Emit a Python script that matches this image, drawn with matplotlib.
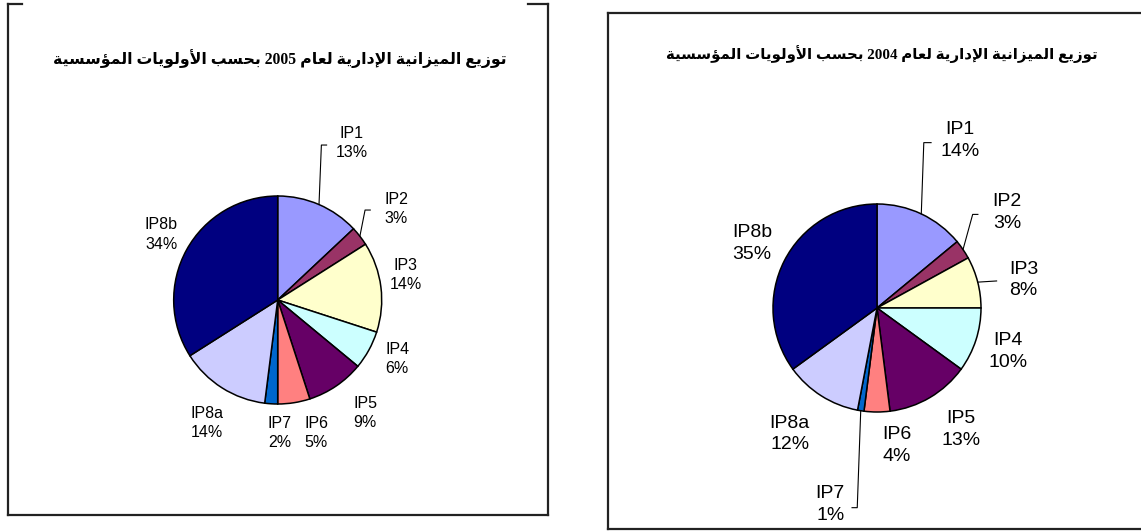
import math
import matplotlib.pyplot as plt
from matplotlib.lines import Line2D

# data
labels = ['IP1', 'IP2', 'IP3', 'IP4', 'IP5', 'IP6', 'IP7', 'IP8a', 'IP8b']
share_2005 = [13, 3, 14, 6, 9, 5, 2, 14, 34]
share_2004 = [14, 3, 8, 10, 13, 4, 1, 12, 35]
title_2005 = 'توزيع الميزانية الإدارية لعام 2005 بحسب الأولويات المؤسسية'
title_2004 = 'توزيع الميزانية الإدارية لعام 2004 بحسب الأولويات المؤسسية'

colors = ['#9999FF', '#993366', '#FFFFCC', '#CCFFFF', '#660066',
          '#FF8080', '#0066CC', '#CCCCFF', '#000080']

# label positions (in pie radius units, relative to the centre)
pos_2005 = [(0.71, 1.51), (1.14, 0.875), (1.23, 0.24), (1.15, -0.57), (0.84, -1.09),
            (0.37, -1.28), (0.02, -1.28), (-0.68, -1.18), (-1.12, 0.63)]
pos_2004 = [(0.80, 1.61), (1.25, 0.92), (1.41, 0.27), (1.26, -0.42), (0.81, -1.17),
            (0.19, -1.32), (-0.45, -1.89), (-0.84, -1.21), (-1.20, 0.62)]
# leader lines: label index -> (elbow, end)
lead_2005 = {0: [(0.42, 1.49), (0.47, 1.49)], 1: [(0.84, 0.865), (0.89, 0.865)]}
lead_2004 = {0: [(0.45, 1.59), (0.52, 1.59)], 1: [(0.92, 0.90), (0.97, 0.90)],
             2: [(1.15, 0.26), (1.15, 0.26)], 6: [(-0.19, -1.92), (-0.24, -1.92)]}

# minimal arabic shaping (matplotlib does not shape or reorder arabic)
FORMS = {  # isolated, final, initial, medial
    'ا': (0xFE8D, 0xFE8E, None, None), 'أ': (0xFE83, 0xFE84, None, None),
    'إ': (0xFE87, 0xFE88, None, None), 'د': (0xFEA9, 0xFEAA, None, None),
    'ر': (0xFEAD, 0xFEAE, None, None), 'ز': (0xFEAF, 0xFEB0, None, None),
    'و': (0xFEED, 0xFEEE, None, None), 'ؤ': (0xFE85, 0xFE86, None, None),
    'ة': (0xFE93, 0xFE94, None, None),
    'ب': (0xFE8F, 0xFE90, 0xFE91, 0xFE92), 'ت': (0xFE95, 0xFE96, 0xFE97, 0xFE98),
    'ح': (0xFEA1, 0xFEA2, 0xFEA3, 0xFEA4), 'س': (0xFEB1, 0xFEB2, 0xFEB3, 0xFEB4),
    'ع': (0xFEC9, 0xFECA, 0xFECB, 0xFECC), 'ل': (0xFEDD, 0xFEDE, 0xFEDF, 0xFEE0),
    'م': (0xFEE1, 0xFEE2, 0xFEE3, 0xFEE4), 'ن': (0xFEE5, 0xFEE6, 0xFEE7, 0xFEE8),
    'ي': (0xFEF1, 0xFEF2, 0xFEF3, 0xFEF4),
}
LAMALEF = {'ا': (0xFEFB, 0xFEFC), 'أ': (0xFEF7, 0xFEF8), 'إ': (0xFEF9, 0xFEFA)}


def shape_word(w):
    out = []
    prev_joins = False
    i = 0
    while i < len(w):
        c = w[i]
        if c == 'ل' and i + 1 < len(w) and w[i + 1] in LAMALEF:
            iso, fin = LAMALEF[w[i + 1]]
            out.append(chr(fin if prev_joins else iso))
            prev_joins = False
            i += 2
            continue
        if c not in FORMS:
            out.append(c)
            prev_joins = False
            i += 1
            continue
        iso, fin, ini, med = FORMS[c]
        nxt = w[i + 1] if i + 1 < len(w) else None
        next_ok = ini is not None and nxt in FORMS
        if prev_joins and next_ok:
            f = med
        elif prev_joins:
            f = fin
        elif next_ok:
            f = ini
        else:
            f = iso
        out.append(chr(f))
        prev_joins = next_ok
        i += 1
    return ''.join(out)


def rtl(text):
    words = [w if w.isdigit() else shape_word(w)[::-1] for w in text.split(' ')]
    return ' '.join(reversed(words))


W, H = 1141, 531
fig = plt.figure(figsize=(W / 100, H / 100), dpi=100)


def panel(box, centre, r, values, title, title_xy, title_size, pos, leads, fsize,
          top_gap=None, right_edge=True):
    x0, y0, x1, y1 = box  # pixels, y from top
    cx, cy = centre
    ax = fig.add_axes([x0 / W, (H - y1) / H, (x1 - x0) / W, (y1 - y0) / H])
    ax.pie(values, colors=colors, startangle=90, counterclock=False, radius=1,
           wedgeprops={'edgecolor': 'black', 'linewidth': 1.1})
    ax.set_xlim((x0 - cx) / r, (x1 - cx) / r)
    ax.set_ylim((cy - y1) / r, (cy - y0) / r)
    ax.set_aspect('auto')
    ax.set_xticks([])
    ax.set_yticks([])
    for s in ax.spines.values():
        s.set_visible(False)

    total = sum(values)
    cum = 0
    for i, (lab, v) in enumerate(zip(labels, values)):
        mid = 90 - (cum + v / 2) / total * 360
        cum += v
        px, py = math.cos(math.radians(mid)), math.sin(math.radians(mid))
        lx, ly = pos[i]
        ax.text(lx, ly, f'{lab}\n{round(v / total * 100)}%', ha='center', va='center',
                multialignment='center', fontsize=fsize, family='Liberation Sans',
                linespacing=1.35, color='black')
        if i in leads:
            (ex, ey), (fx, fy) = leads[i]
            ax.plot([px, ex, fx], [py, ey, fy], color='black', lw=0.8)

    ax.text(title_xy[0], title_xy[1], rtl(title), transform=ax.transAxes,
            ha='center', va='center', fontsize=title_size, fontweight='bold',
            family=['Liberation Serif', 'DejaVu Sans'])

    # border
    lc = '#222222'
    tr = ax.transAxes
    ax.add_line(Line2D([0, 0], [0, 1], transform=tr, color=lc, lw=1.6, clip_on=False))
    ax.add_line(Line2D([0, 1], [0, 0], transform=tr, color=lc, lw=1.6, clip_on=False))
    if right_edge:
        ax.add_line(Line2D([1, 1], [0, 1], transform=tr, color=lc, lw=1.6, clip_on=False))
    if top_gap:
        g0, g1 = top_gap
        ax.add_line(Line2D([0, g0], [1, 1], transform=tr, color=lc, lw=1.6, clip_on=False))
        ax.add_line(Line2D([g1, 1], [1, 1], transform=tr, color=lc, lw=1.6, clip_on=False))
    else:
        ax.add_line(Line2D([0, 1], [1, 1], transform=tr, color=lc, lw=1.6, clip_on=False))
    return ax


panel((8, 4, 548, 515), (277.7, 300), 104, share_2005, title_2005,
      ((280 - 8) / 540, (515 - 59) / 511), 11.3,
      pos_2005, lead_2005, 11.5, top_gap=(14 / 540, 520 / 540))
panel((608, 13, 1141, 529), (877, 308), 104, share_2004, title_2004,
      ((882 - 608) / 533, (529 - 54) / 516), 10.8,
      pos_2004, lead_2004, 14, right_edge=False)

plt.savefig('out.png', dpi=100)
